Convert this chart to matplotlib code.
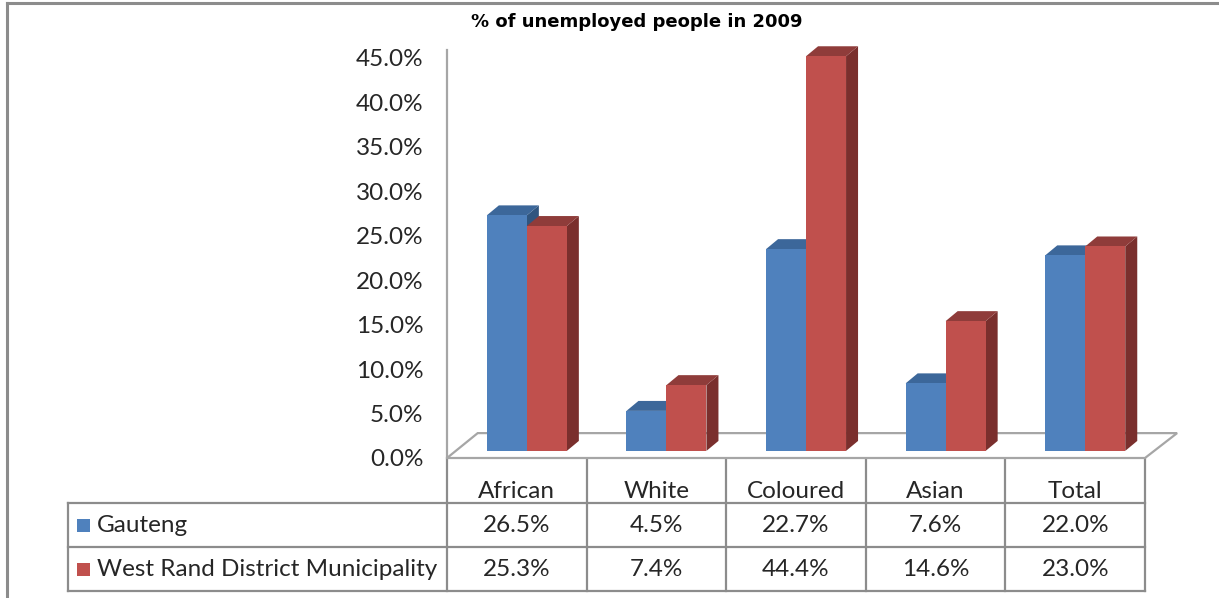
import numpy as np
import matplotlib
matplotlib.use("Agg")
import matplotlib.pyplot as plt
from matplotlib.patches import Polygon, Rectangle

# datos
categories = ["African", "White", "Coloured", "Asian", "Total"]
series_names = ["Gauteng", "West Rand District Municipality"]
gauteng = [26.5, 4.5, 22.7, 7.6, 22.0]
west_rand = [25.3, 7.4, 44.4, 14.6, 23.0]
yticks = [0, 5, 10, 15, 20, 25, 30, 35, 40, 45]

front_cols = ["#4F81BD", "#C0504D"]
top_cols = ["#3C679A", "#8F3C3A"]
side_cols = ["#30557F", "#7A2F2D"]

plt.rcParams["font.family"] = ["Lato", "DejaVu Sans"]
W, H = 1219, 598
fs = 17.5
fig = plt.figure(figsize=(W / 100, H / 100), dpi=100)

# lienzo en pixeles para marco, tabla y titulo
canvas = fig.add_axes([0, 0, 1, 1])
canvas.set_xlim(0, W)
canvas.set_ylim(H, 0)
canvas.axis("off")

# eje principal (plano frontal)
x_left, x_right = 447, 1145
y_zero, y_top = 458, 58
ax = fig.add_axes([x_left / W, (H - y_zero) / H, (x_right - x_left) / W, (y_zero - y_top) / H])
ax.set_xlim(-0.5, len(categories) - 0.5)
ax.set_ylim(0, 45)
ax.patch.set_alpha(0)
for s in ax.spines.values():
    s.set_visible(False)
ax.set_xticks([])
ax.set_yticks(yticks)
ax.set_yticklabels([f"{v:.1f}%" for v in yticks], fontsize=fs, color="#262626")
ax.tick_params(axis="y", length=0, pad=17)

# piso 3D
fdx, fdy = 0.22, 2.8
n = len(categories)
floor = Polygon([(-0.5, 0), (n - 0.5, 0), (n - 0.5 + fdx + 0.01, fdy), (-0.5 + fdx, fdy)],
                closed=True, facecolor="white", edgecolor="#A6A6A6", lw=1.6,
                clip_on=False, zorder=1)
ax.add_patch(floor)
ax.plot([-0.5, -0.5], [0, 45.9], color="#A6A6A6", lw=1.6, clip_on=False, zorder=1)

# barras 3D
w = 0.2865
off = 0.072
base = 0.8
ddx, ddy = 0.086, 1.12
for i in range(n):
    for k, vals in enumerate([gauteng, west_rand]):
        v = vals[i]
        x0 = i + off - w + k * w
        top = base + v
        side = Polygon([(x0 + w, base), (x0 + w + ddx, base + ddy),
                        (x0 + w + ddx, top + ddy), (x0 + w, top)],
                       facecolor=side_cols[k], lw=0, clip_on=False, zorder=2)
        topf = Polygon([(x0, top), (x0 + ddx, top + ddy),
                        (x0 + w + ddx, top + ddy), (x0 + w, top)],
                       facecolor=top_cols[k], lw=0, clip_on=False, zorder=2)
        front = Rectangle((x0, base), w, v, facecolor=front_cols[k], lw=0,
                          clip_on=False, zorder=2)
        ax.add_patch(side)
        ax.add_patch(topf)
        ax.add_patch(front)

# marco exterior
canvas.plot([7, W], [3, 3], color="#8C8C8C", lw=2.2)
canvas.plot([7, 7], [3, H], color="#8C8C8C", lw=2.2)

# titulo
canvas.text(637, 22, "% of unemployed people in 2009", ha="center", va="center",
            fontsize=13, fontweight="bold", color="black", family="DejaVu Sans")

# tabla de datos
col_w = (x_right - x_left) / n
rows_y = [458, 503, 547, 591]
label_x = 68
tc = "#8C8C8C"
for j in range(n + 1):
    xx = x_left + j * col_w
    canvas.plot([xx, xx], [rows_y[0], rows_y[-1]], color=tc, lw=1.6)
canvas.plot([label_x, label_x], [rows_y[1], rows_y[-1]], color=tc, lw=1.6)
for yy in rows_y[1:]:
    canvas.plot([label_x, x_right], [yy, yy], color=tc, lw=1.6)

for j, c in enumerate(categories):
    canvas.text(x_left + (j + 0.5) * col_w, 492, c, ha="center", va="center",
                fontsize=fs, color="#262626")

for r, (name, vals) in enumerate(zip(series_names, [gauteng, west_rand])):
    yc = (rows_y[r + 1] + rows_y[r + 2]) / 2
    canvas.add_patch(Rectangle((77, yc - 6.5), 13, 13, facecolor=front_cols[r], lw=0))
    canvas.text(97, yc, name, ha="left", va="center", fontsize=fs, color="#262626")
    for j, v in enumerate(vals):
        canvas.text(x_left + (j + 0.5) * col_w, yc, f"{v:.1f}%", ha="center",
                    va="center", fontsize=fs, color="#262626")

fig.savefig("out.png", dpi=100)
